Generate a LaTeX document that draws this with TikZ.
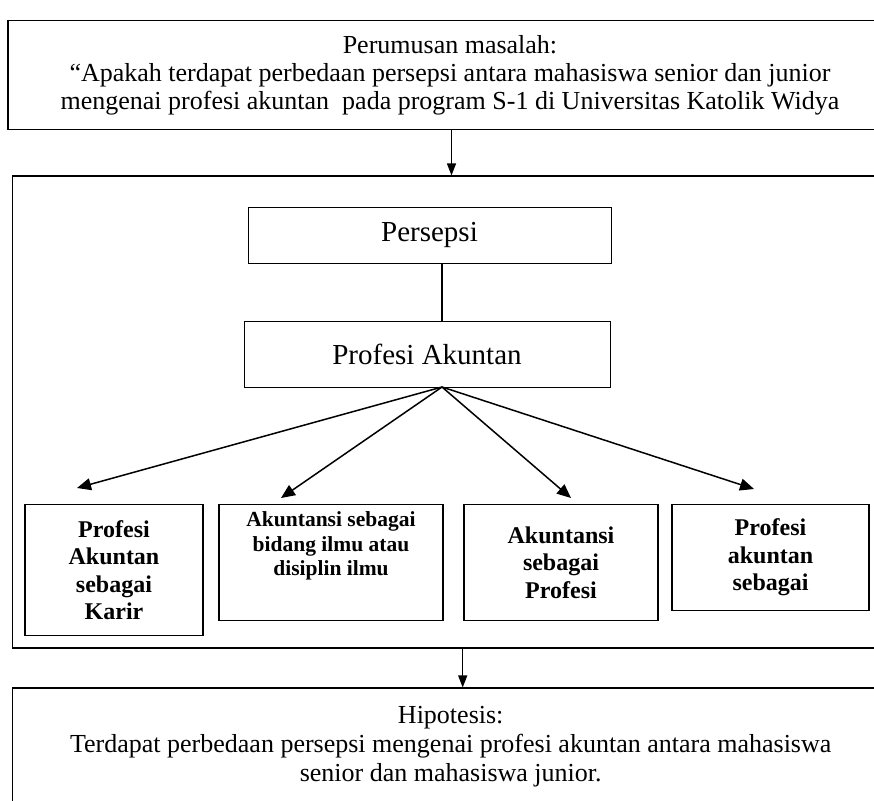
\documentclass[tikz,border=0pt]{standalone}
\usepackage{fontspec}
\setmainfont{Liberation Serif}
\usetikzlibrary{arrows.meta,positioning}

\begin{document}
\begin{tikzpicture}[
    x=1pt, y=-1pt,
    >={Triangle[length=14pt,width=12pt]},
    frame/.style={rectangle, draw, line width=1.1pt, inner sep=0pt, align=center},
    inbox/.style={rectangle, draw, line width=1pt, inner sep=2pt, align=center,
                  font=\fontsize{29}{32}\selectfont},
    aspek/.style={rectangle, draw, line width=1.3pt, inner sep=2pt, align=center,
                  font=\fontsize{24}{27.5}\selectfont\bfseries},
    conn/.style={line width=1.5pt},
  ]
  \useasboundingbox (0,0) rectangle (874,800);

  %% ===== outer frames =====
  \node[frame, minimum width=884pt, minimum height=109pt,
        font=\fontsize{26}{28}\selectfont] (rumusan) at (450,75)
    {Perumusan masalah:\\
     ``Apakah terdapat perbedaan persepsi antara mahasiswa senior dan junior\\
     mengenai profesi akuntan\ \ pada program S-1 di Universitas Katolik Widya};
  \node[frame, minimum width=876pt, minimum height=472pt] (kerangka) at (450.7,412) {};
  \node[frame, minimum width=876pt, minimum height=118pt,
        font=\fontsize{26}{29}\selectfont] (hipotesis) at (450.7,747)
    {Hipotesis:\\
     Terdapat perbedaan persepsi mengenai profesi akuntan antara mahasiswa\\
     senior dan mahasiswa junior.};

  %% ===== inner boxes =====
  \node[inbox, minimum width=363pt, minimum height=56pt] (persepsi) at (429.5,235) {Persepsi};
  \node[inbox, minimum width=366pt, minimum height=66pt] (profesi)  at (427,354) {Profesi Akuntan};

  %% four aspects (top edges aligned)
  \node[aspek, anchor=north, minimum width=178pt, minimum height=131pt] (karir) at (114,504)
    {Profesi\\Akuntan\\sebagai\\Karir};
  \node[aspek, anchor=north, minimum width=224pt, minimum height=116pt,
        font=\fontsize{21.5}{24.5}\selectfont\bfseries, text depth=38pt] (bidang) at (331,504)
    {Akuntansi sebagai\\bidang ilmu atau\\disiplin ilmu};
  \node[aspek, anchor=north, minimum width=194pt, minimum height=116pt] (profesiA) at (561,504)
    {Akuntansi\\sebagai\\Profesi};
  \node[aspek, anchor=north, minimum width=197pt, minimum height=106pt] (sebagai) at (770.5,504)
    {Profesi\\akuntan\\sebagai};

  %% arrow tips above the aspect boxes
  \coordinate (puncak) at (442,387);
  \coordinate (tA) at (77,488);
  \coordinate (tB) at (281,498);
  \coordinate (tC) at (571,498);
  \coordinate (tD) at (754,489);

  %% ===== connectors =====
  \draw[->, line width=1.2pt, >={Triangle[length=12pt,width=9pt]}]
    ([xshift=22pt]persepsi.north |- rumusan.south) -- ([xshift=22pt]persepsi.north |- kerangka.north);
  \draw[line width=1.2pt] (puncak |- persepsi.south) -- (puncak |- profesi.north);
  \foreach \t in {tA,tB,tC,tD}
    \draw[->, conn] (puncak) -- (\t);
  \draw[->, line width=1.2pt, >={Triangle[length=12pt,width=9pt]}]
    ([xshift=12pt]kerangka.south) -- ([xshift=12pt]hipotesis.north);
\end{tikzpicture}
\end{document}
